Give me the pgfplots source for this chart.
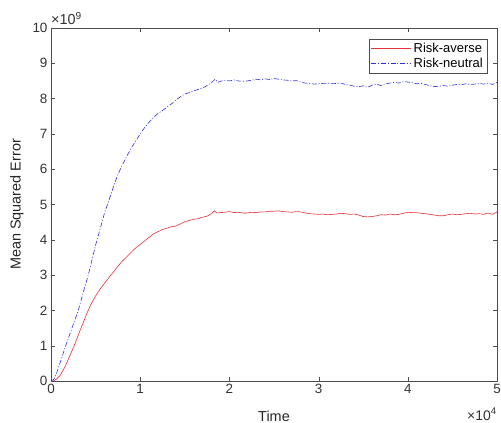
\documentclass[border=0pt]{standalone}
\usepackage{fontspec}
\setmainfont{Liberation Sans}
\usepackage{pgfplots}
\pgfplotsset{compat=1.18}
\definecolor{axgray}{HTML}{4D4D4D}
\definecolor{mred}{HTML}{E8303A}
\definecolor{mblue}{HTML}{3030E0}

\begin{document}
\begin{tikzpicture}
\begin{axis}[
  scale only axis, width=446bp, height=353bp,
  xmin=0, xmax=5, ymin=0, ymax=10,
  xtick={0,1,2,3,4,5}, ytick={0,1,...,10},
  tick pos=both, tick align=inside, major tick length=4bp,
  axis line style={axgray}, tick style={axgray},
  /pgf/number format/assume math mode=true,
  tick label style={font=\fontsize{13.5}{15}\selectfont, text=black!80},
  label style={font=\fontsize{14.5}{16}\selectfont, text=black!85},
  xlabel={Time}, ylabel={Mean Squared Error},
  xlabel style={at={(rel axis cs:0.5,0)}, anchor=center, yshift=-35bp},
  ylabel style={at={(rel axis cs:0,0.5)}, anchor=center, yshift=34bp},
  legend style={at={(rel axis cs:1,1)}, anchor=north east, xshift=-10bp, yshift=-11bp,
    draw=axgray, font=\fontsize{13}{15}\selectfont, inner sep=2bp,
    row sep=0bp, cells={anchor=west}},
  legend image code/.code={\draw[#1] (0bp,0bp) -- (40bp,0bp);},
  clip=false,
]
\addplot[mred, line width=0.6pt] coordinates {
(0,0) (0.03,0.01) (0.06,0.05) (0.1,0.15) (0.157,0.4) (0.2,0.65) (0.26,1.0)
(0.33,1.46) (0.41,1.96) (0.45,2.18) (0.5,2.41) (0.55,2.6) (0.6,2.77) (0.65,2.93)
(0.7,3.09) (0.75,3.25) (0.8,3.4) (0.85,3.52) (0.9,3.65) (0.95,3.77) (1.0,3.87)
(1.05,3.97) (1.1,4.07) (1.15,4.17) (1.2,4.23) (1.25,4.29) (1.3,4.33) (1.35,4.37)
(1.4,4.39) (1.45,4.45) (1.5,4.51) (1.55,4.55) (1.6,4.58) (1.65,4.6) (1.7,4.64)
(1.75,4.67) (1.8,4.74) (1.83,4.82) (1.86,4.76) (1.9,4.77) (1.95,4.78) (2.0,4.80)
(2.05,4.77) (2.1,4.78) (2.15,4.76) (2.2,4.76) (2.25,4.78) (2.3,4.77) (2.35,4.79)
(2.4,4.79) (2.45,4.81) (2.5,4.81) (2.55,4.82) (2.6,4.80) (2.65,4.79) (2.7,4.78)
(2.75,4.80) (2.8,4.79) (2.85,4.76) (2.9,4.74) (2.95,4.73) (3.0,4.72) (3.05,4.73)
(3.1,4.71) (3.15,4.72) (3.2,4.73) (3.25,4.75) (3.3,4.74) (3.35,4.72) (3.4,4.73)
(3.45,4.70) (3.5,4.66) (3.55,4.65) (3.6,4.66) (3.65,4.68) (3.7,4.71) (3.75,4.70)
(3.8,4.73) (3.85,4.71) (3.9,4.72) (3.95,4.75) (4.0,4.78) (4.05,4.77) (4.1,4.77)
(4.15,4.75) (4.2,4.74) (4.25,4.72) (4.3,4.70) (4.35,4.68) (4.4,4.68) (4.45,4.71)
(4.5,4.73) (4.55,4.71) (4.6,4.72) (4.65,4.74) (4.7,4.75) (4.75,4.73) (4.8,4.74)
(4.85,4.72) (4.9,4.76) (4.95,4.72) (5.0,4.79)
};
\addlegendentry{Risk-averse}
\addplot[mblue, line width=0.6pt, dash pattern=on 5pt off 1.8pt on 1pt off 1.8pt] coordinates {
(0,0) (0.03,0.04) (0.06,0.2) (0.1,0.5) (0.165,1.0) (0.235,1.5) (0.306,2.0)
(0.36,2.5) (0.42,3.02) (0.45,3.33) (0.5,3.85) (0.55,4.3) (0.6,4.76) (0.65,5.12)
(0.7,5.5) (0.75,5.85) (0.8,6.12) (0.85,6.37) (0.9,6.6) (0.95,6.8) (1.0,7.0)
(1.05,7.18) (1.1,7.33) (1.15,7.47) (1.2,7.58) (1.25,7.66) (1.3,7.76) (1.35,7.85)
(1.4,7.96) (1.45,8.05) (1.5,8.13) (1.55,8.17) (1.6,8.22) (1.65,8.26) (1.7,8.30)
(1.75,8.37) (1.8,8.45) (1.84,8.55) (1.87,8.46) (1.9,8.49) (1.95,8.52) (2.0,8.50)
(2.05,8.53) (2.1,8.50) (2.15,8.49) (2.2,8.50) (2.25,8.52) (2.3,8.55) (2.35,8.53)
(2.4,8.56) (2.45,8.54) (2.5,8.57) (2.55,8.55) (2.6,8.53) (2.65,8.52) (2.7,8.50)
(2.75,8.51) (2.8,8.47) (2.85,8.44) (2.9,8.43) (2.95,8.41) (3.0,8.42) (3.05,8.43)
(3.1,8.44) (3.15,8.42) (3.2,8.43) (3.25,8.44) (3.3,8.40) (3.35,8.38) (3.4,8.35)
(3.45,8.34) (3.5,8.36) (3.55,8.32) (3.6,8.38) (3.65,8.41) (3.7,8.37) (3.75,8.42)
(3.8,8.44) (3.85,8.46) (3.9,8.44) (3.95,8.48) (4.0,8.47) (4.05,8.45) (4.1,8.42)
(4.15,8.43) (4.2,8.40) (4.25,8.36) (4.3,8.34) (4.35,8.35) (4.4,8.37) (4.45,8.35)
(4.5,8.38) (4.55,8.40) (4.6,8.39) (4.65,8.42) (4.7,8.40) (4.75,8.41) (4.8,8.43)
(4.85,8.41) (4.9,8.44) (4.95,8.40) (5.0,8.46)
};
\addlegendentry{Risk-neutral}
\node[anchor=south west, inner sep=0pt, font=\fontsize{14.5}{16}\selectfont, text=black!80, yshift=3bp]
  at (rel axis cs:0,1) {×10\textsuperscript{9}};
\node[anchor=base east, inner sep=0pt, font=\fontsize{14}{16}\selectfont, text=black!80, yshift=-39bp]
  at (rel axis cs:1,0) {×10\textsuperscript{4}};
\end{axis}
\pgfresetboundingbox
\path[use as bounding box] (-51bp,-42bp) rectangle (450bp,381bp);
\end{tikzpicture}
\end{document}
